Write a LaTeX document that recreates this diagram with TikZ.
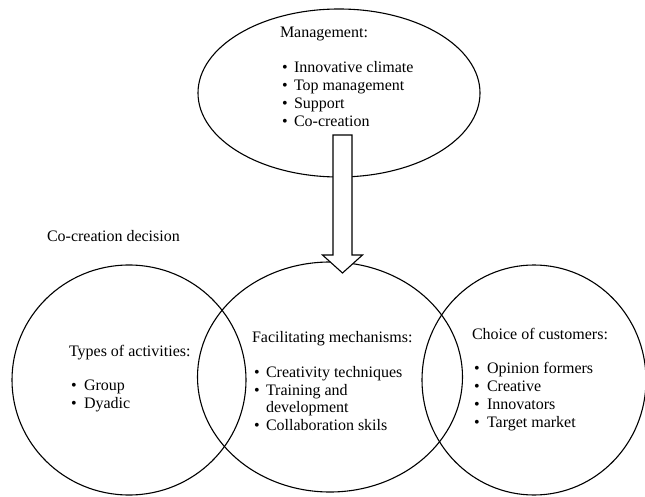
\documentclass[tikz,border=0pt]{standalone}
\usepackage{fontspec}
\setmainfont{Liberation Serif}
\usetikzlibrary{shapes.geometric,calc}
\tikzset{
  region/.style={draw=black, line width=1.1pt, ellipse, inner sep=0pt, outer sep=0pt},
  txt/.style={anchor=base west, inner sep=0pt, outer sep=0pt, font=\fontsize{16}{18}\selectfont},
  bigarrow/.style={draw=black, fill=white, line width=1.1pt, line join=miter}
}
\begin{document}
\begin{tikzpicture}[x=1pt, y=-1pt]
\useasboundingbox (0,0) rectangle (645,497);
% regions
\node[region, minimum width=282pt, minimum height=168pt] (mgmt) at (339,93) {};
\node[region, minimum width=234pt, minimum height=230pt] (types) at (129,380) {};
\node[region, minimum width=265pt, minimum height=230pt] (facil) at (330,377) {};
\node[region, minimum width=224pt, minimum height=230pt] (choice) at (534,380) {};
% arrow from management to facilitating mechanisms
\coordinate (atop) at (342.5,135);
\coordinate (atip) at (342.5,273);
\draw[bigarrow] ($(atop)+(-9.5,0)$) -- ($(atop)+(9.5,0)$) -- ($(atip)+(9.5,-18)$) -- ($(atip)+(20,-18)$) -- (atip) -- ($(atip)+(-20,-18)$) -- ($(atip)+(-9.5,-18)$) -- cycle;
% management text
\node[txt] (mt) at (280,38) {Management:};
\node[txt] (mb1) at (282,73) {•};
\node[txt] (m1) at (294,73) {Innovative climate};
\node[txt] (mb2) at (282,91) {•};
\node[txt] (m2) at (294,91) {Top management};
\node[txt] (mb3) at (282,109) {•};
\node[txt] (m3) at (294,109) {Support};
\node[txt] (mb4) at (282,127) {•};
\node[txt] (m4) at (294,127) {Co-creation};
% decision label
\node[txt] (dec) at (47,241) {Co-creation decision};
% types
\node[txt] (tt) at (69,356) {Types of activities:};
\node[txt] (tb1) at (71,390) {•};
\node[txt] (t1) at (84,390) {Group};
\node[txt] (tb2) at (71,408) {•};
\node[txt] (t2) at (84,408) {Dyadic};
% facilitating
\node[txt] (ft) at (252,342) {Facilitating mechanisms:};
\node[txt] (fb1) at (254,377) {•};
\node[txt] (f1) at (266,377) {Creativity techniques};
\node[txt] (fb2) at (254,395) {•};
\node[txt] (f2) at (266,395) {Training and};
\node[txt] (f2b) at (266,412) {development};
\node[txt] (fb3) at (254,430) {•};
\node[txt] (f3) at (266,430) {Collaboration skils};
% choice
\node[txt] (ct) at (472,339) {Choice of customers:};
\node[txt] (cb1) at (474,373) {•};
\node[txt] (c1) at (487,373) {Opinion formers};
\node[txt] (cb2) at (474,391) {•};
\node[txt] (c2) at (487,391) {Creative};
\node[txt] (cb3) at (474,409) {•};
\node[txt] (c3) at (487,409) {Innovators};
\node[txt] (cb4) at (474,427) {•};
\node[txt] (c4) at (487,427) {Target market};
\end{tikzpicture}
\end{document}
